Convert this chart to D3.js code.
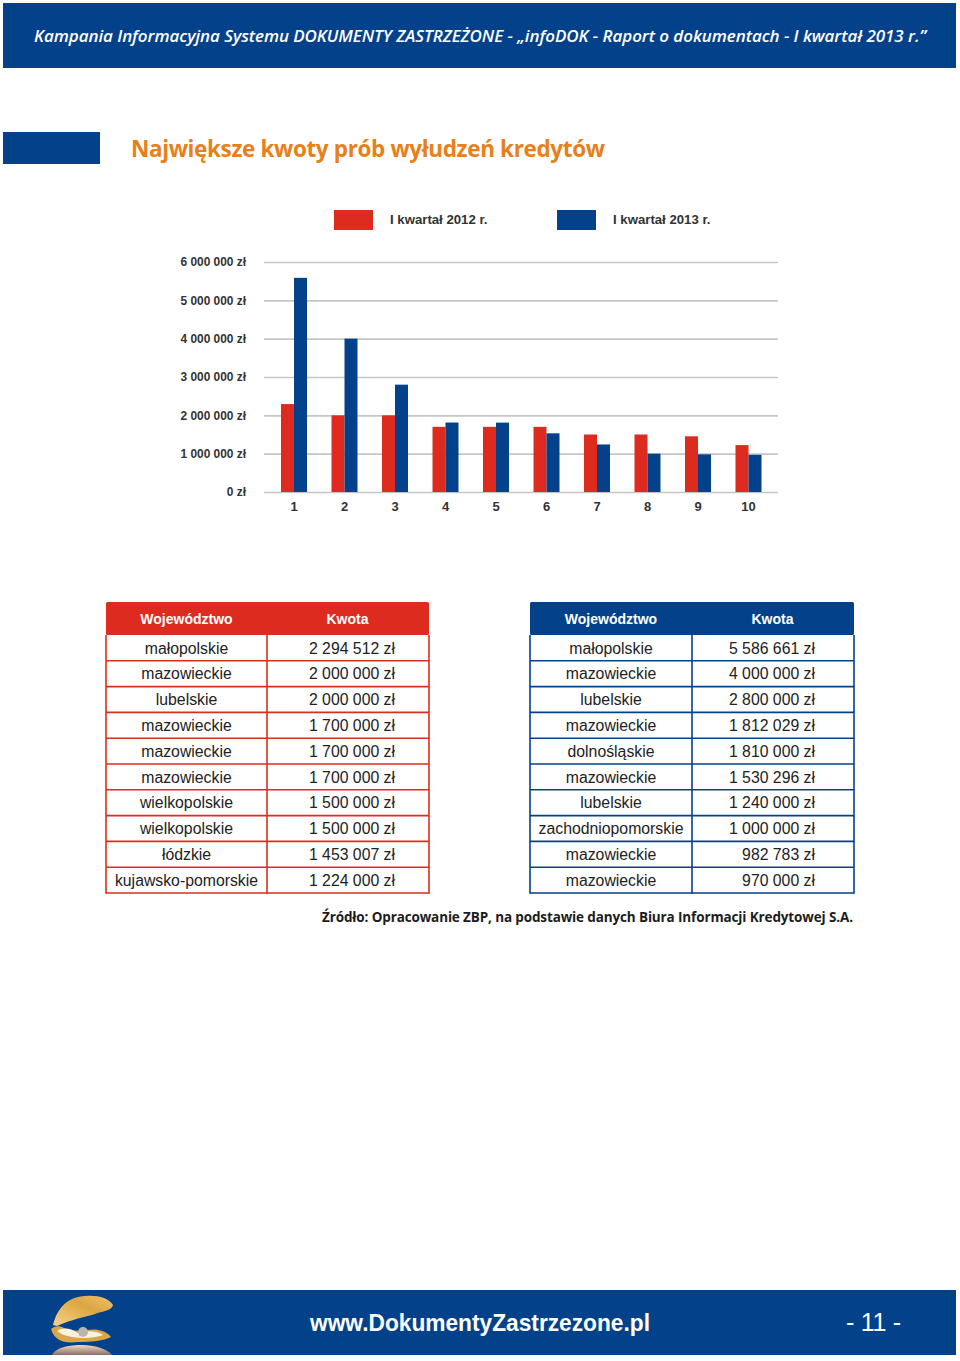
<!DOCTYPE html>
<html lang="pl">
<head>
<meta charset="utf-8">
<script src="https://d3js.org/d3.v7.min.js"></script>
<style>
  html, body { margin: 0; padding: 0; background: #fff; }
  svg { display: block; }
  text { font-family: "Liberation Sans", Arial, sans-serif; }
  .geo { font-family: "Open Sans", "Lato", sans-serif; }
  .axis path { display: none; }
  .axis text { font-weight: bold; font-size: 11.9px; fill: #333; }
</style>
</head>
<body>
<div id="page"></div>
<script>
const w = 960,
      h = 1361;

const RED = '#dd2c1f',
      BLUE = '#03428a';

const ranks = [1, 2, 3, 4, 5, 6, 7, 8, 9, 10];
const series = ['I kwartał 2012 r.', 'I kwartał 2013 r.'];
const values2012 = [2294512, 2000000, 2000000, 1700000, 1700000, 1700000, 1500000, 1500000, 1453007, 1224000];
const values2013 = [5586661, 4000000, 2800000, 1812029, 1810000, 1530296, 1240000, 1000000, 982783, 970000];
const regions2012 = ['małopolskie', 'mazowieckie', 'lubelskie', 'mazowieckie', 'mazowieckie', 'mazowieckie', 'wielkopolskie', 'wielkopolskie', 'łódzkie', 'kujawsko-pomorskie'];
const regions2013 = ['małopolskie', 'mazowieckie', 'lubelskie', 'mazowieckie', 'dolnośląskie', 'mazowieckie', 'lubelskie', 'zachodniopomorskie', 'mazowieckie', 'mazowieckie'];
const yTicks = [0, 1000000, 2000000, 3000000, 4000000, 5000000, 6000000];

const pl = d3.formatLocale({ decimal: ',', thousands: ' ', grouping: [3], currency: ['', ' zł'] });
const fmt = d => pl.format(',')(d) + ' zł';

const svg = d3.select('#page').append('svg')
  .attr('width', w)
  .attr('height', h);

// page furniture
svg.append('rect').attr('x', 3).attr('y', 3).attr('width', 953).attr('height', 65).attr('fill', BLUE);
svg.append('text').attr('class', 'geo')
  .attr('x', 34).attr('y', 42)
  .attr('textLength', 892).attr('lengthAdjust', 'spacing')
  .style('font-size', '17px').style('font-style', 'italic').style('font-weight', 600)
  .attr('fill', '#fff')
  .text('Kampania Informacyjna Systemu DOKUMENTY ZASTRZEŻONE - „infoDOK - Raport o dokumentach - I kwartał 2013 r.”');

svg.append('rect').attr('x', 3).attr('y', 132).attr('width', 97).attr('height', 32).attr('fill', BLUE);
svg.append('text').attr('class', 'geo')
  .attr('x', 131).attr('y', 157)
  .attr('textLength', 474).attr('lengthAdjust', 'spacing')
  .style('font-size', '22.5px').style('font-weight', 'bold')
  .attr('fill', '#e8801a')
  .text('Największe kwoty prób wyłudzeń kredytów');

// legend
const legendX = [334, 557];
const legend = svg.selectAll('.legend-item')
  .data(series)
  .enter().append('g')
  .attr('class', 'legend-item')
  .attr('transform', (d, i) => `translate(${legendX[i]}, 210)`);
legend.append('rect')
  .attr('width', 39).attr('height', 20)
  .attr('fill', (d, i) => i === 0 ? RED : BLUE);
legend.append('text')
  .attr('x', 56).attr('y', 13.5)
  .style('font-size', '13.2px').style('font-weight', 'bold')
  .attr('fill', '#333')
  .text(d => d);

// chart
const xScale = d3.scaleBand().domain(ranks).range([268.75, 773.75]);
const barScale = d3.scaleBand().domain([0, 1]).range([xScale.bandwidth() / 2 - 13, xScale.bandwidth() / 2 + 13]);
const yScale = d3.scaleLinear().domain([0, 6000000]).range([492, 262]);

const yAxis = svg.append('g')
  .attr('class', 'axis')
  .attr('transform', 'translate(264, 0)')
  .call(d3.axisLeft(yScale).tickValues(yTicks).tickSize(-514).tickPadding(18).tickFormat(fmt));
yAxis.selectAll('line').attr('stroke', '#c6c6c6').attr('stroke-width', 1.6);

const groups = svg.selectAll('.rank')
  .data(ranks)
  .enter().append('g')
  .attr('class', 'rank')
  .attr('transform', d => `translate(${xScale(d)}, 0)`);
[values2012, values2013].forEach(function(vals, s) {
  groups.append('rect')
    .attr('x', barScale(s))
    .attr('width', barScale.bandwidth())
    .attr('y', (d, i) => yScale(vals[i]))
    .attr('height', (d, i) => yScale(0) - yScale(vals[i]))
    .attr('fill', s === 0 ? RED : BLUE);
});

const xAxis = svg.append('g')
  .attr('class', 'axis')
  .attr('transform', 'translate(0, 492)')
  .call(d3.axisBottom(xScale).tickSize(0).tickPadding(10));
xAxis.selectAll('text').style('font-size', '13px');

// tables
const rowScale = d3.scaleBand().domain(ranks).range([635, 893]);

function drawTable(x0, xSplit, x1, color, regions, values, amountRight, headAmountX) {
  const t = svg.append('g');
  t.append('rect')
    .attr('x', x0).attr('y', 602).attr('width', x1 - x0).attr('height', 33).attr('rx', 1.5)
    .attr('fill', color);
  t.append('text')
    .attr('x', (x0 + xSplit) / 2).attr('y', 624)
    .attr('text-anchor', 'middle').attr('fill', '#fff')
    .style('font-size', '14px').style('font-weight', 'bold')
    .text('Województwo');
  t.append('text')
    .attr('x', headAmountX).attr('y', 624)
    .attr('text-anchor', 'middle').attr('fill', '#fff')
    .style('font-size', '14px').style('font-weight', 'bold')
    .text('Kwota');

  const rows = t.selectAll('.row')
    .data(ranks)
    .enter().append('g')
    .attr('class', 'row')
    .attr('transform', d => `translate(0, ${rowScale(d)})`);
  rows.append('line')
    .attr('x1', x0).attr('x2', x1)
    .attr('y1', rowScale.bandwidth()).attr('y2', rowScale.bandwidth())
    .attr('stroke', color).attr('stroke-width', 1.6);
  rows.append('text')
    .attr('x', (x0 + xSplit) / 2).attr('y', 18.6)
    .attr('text-anchor', 'middle').attr('fill', '#222')
    .style('font-size', '15.8px')
    .text((d, i) => regions[i]);
  rows.append('text')
    .attr('x', amountRight).attr('y', 18.6)
    .attr('text-anchor', 'end').attr('fill', '#222')
    .style('font-size', '15.8px')
    .text((d, i) => fmt(values[i]));

  [x0, xSplit, x1].forEach(function(x) {
    t.append('line')
      .attr('x1', x).attr('x2', x)
      .attr('y1', 635).attr('y2', rowScale.range()[1] + 0.8)
      .attr('stroke', color).attr('stroke-width', 1.6);
  });
}

drawTable(106, 267, 429, RED, regions2012, values2012, 395, 347.5);
drawTable(530, 692, 854, BLUE, regions2013, values2013, 815, 772.5);

svg.append('text').attr('class', 'geo')
  .attr('x', 322).attr('y', 922)
  .attr('textLength', 531).attr('lengthAdjust', 'spacing')
  .style('font-size', '13.5px').style('font-weight', 'bold')
  .attr('fill', '#1c1c1c')
  .text('Źródło: Opracowanie ZBP, na podstawie danych Biura Informacji Kredytowej S.A.');

// footer
svg.append('rect').attr('x', 3).attr('y', 1290).attr('width', 953).attr('height', 65).attr('fill', BLUE);

const defs = svg.append('defs');
const shellGrad = defs.append('linearGradient').attr('id', 'shell').attr('x1', 0).attr('y1', 1).attr('x2', 1).attr('y2', 0);
shellGrad.append('stop').attr('offset', 0).attr('stop-color', '#f4d58a');
shellGrad.append('stop').attr('offset', 0.6).attr('stop-color', '#dca642');
shellGrad.append('stop').attr('offset', 1).attr('stop-color', '#eec36c');
const reflGrad = defs.append('linearGradient').attr('id', 'refl').attr('x1', 0).attr('y1', 0).attr('x2', 0).attr('y2', 1);
reflGrad.append('stop').attr('offset', 0).attr('stop-color', '#f0d8c0');
reflGrad.append('stop').attr('offset', 1).attr('stop-color', '#8a6f6a');

const shell = svg.append('g');
shell.append('path')
  .attr('d', 'M53 1325 C56 1312 64 1300 78 1297 C92 1294 108 1296 113 1305 C112 1311 102 1311 92 1315 C78 1318 66 1322 57 1326 Z')
  .attr('fill', 'url(#shell)');
shell.append('path')
  .attr('d', 'M51 1329 C54 1326 60 1325 64 1328 C76 1334 90 1328 98 1330 C104 1331 109 1334 111 1337 C104 1341 90 1342 78 1342 C64 1344 54 1340 51 1329 Z')
  .attr('fill', '#d9a648');
shell.append('path')
  .attr('d', 'M57 1331 C64 1326 72 1329 78 1333 C88 1330 98 1331 103 1335 C92 1339 68 1340 57 1331 Z')
  .attr('fill', '#fbf1dc');
shell.append('circle').attr('cx', 83).attr('cy', 1332).attr('r', 5).attr('fill', '#b9b6ae');
shell.append('path')
  .attr('d', 'M52 1355 C56 1347 70 1345 82 1345 C94 1345 108 1349 112 1355 Z')
  .attr('fill', 'url(#refl)');

svg.append('text')
  .attr('x', 310).attr('y', 1331)
  .attr('textLength', 340).attr('lengthAdjust', 'spacingAndGlyphs')
  .attr('fill', '#fff')
  .style('font-size', '24px').style('font-weight', 'bold')
  .text('www.DokumentyZastrzezone.pl');
svg.append('text')
  .attr('x', 846).attr('y', 1331)
  .attr('textLength', 55).attr('lengthAdjust', 'spacing')
  .attr('fill', '#fff')
  .style('font-size', '25px')
  .text('- 11 -');
</script>
</body>
</html>
